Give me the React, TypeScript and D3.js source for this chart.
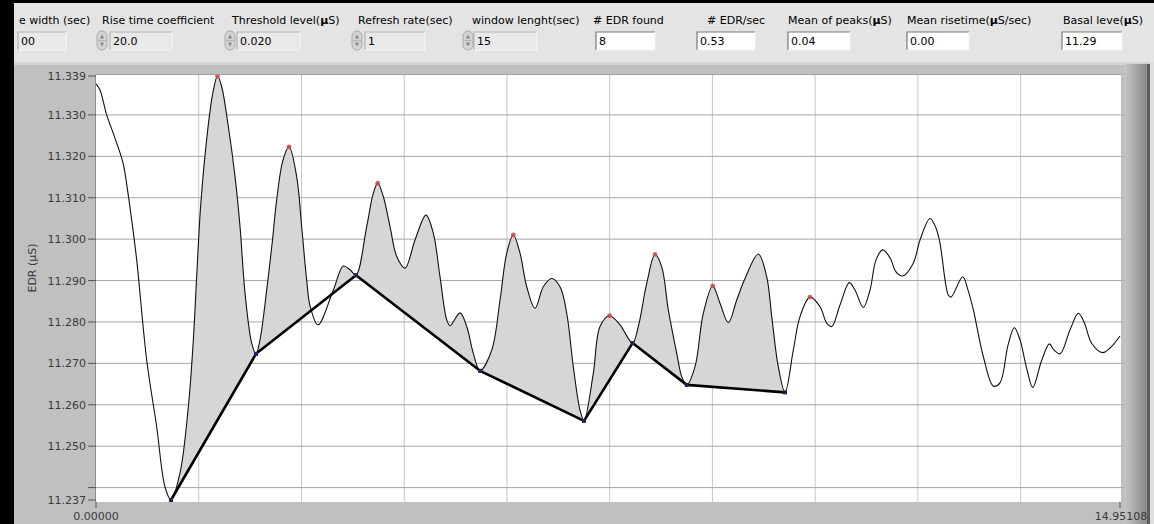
import React from "react";
import * as d3 from "d3";

// EDR waveform (time in s, conductance in µS)
const edrTime = [
  0, 0.058, 0.156, 0.277, 0.394, 0.467, 0.521, 0.594, 0.74, 0.886, 1.007, 1.095,
  1.226, 1.348, 1.421, 1.475, 1.53, 1.63, 1.705, 1.774, 1.835, 1.932, 2.03, 2.103,
  2.176, 2.273, 2.336, 2.394, 2.492, 2.577, 2.638, 2.73, 2.818, 2.93, 3.003, 3.076,
  3.125, 3.241, 3.465, 3.611, 3.709, 3.796, 3.952, 4.049, 4.113, 4.195, 4.293, 4.391,
  4.512, 4.658, 4.818, 4.925, 5.023, 5.121, 5.169, 5.315, 5.413, 5.509, 5.607, 5.778,
  5.899, 5.997, 6.093, 6.191, 6.289, 6.41, 6.531, 6.654, 6.775, 6.873, 6.969, 7.067,
  7.125, 7.261, 7.359, 7.498, 7.651, 7.834, 7.918, 8.041, 8.162, 8.26, 8.356, 8.479,
  8.552, 8.625, 8.746, 8.867, 9.005, 9.111, 9.233, 9.355, 9.476, 9.67, 9.793, 9.866,
  9.962, 10.06, 10.181, 10.279, 10.425, 10.571, 10.669, 10.742, 10.863, 10.999, 11.082, 11.203,
  11.301, 11.389, 11.486, 11.593, 11.681, 11.776, 11.933, 12.031, 12.177, 12.264, 12.323, 12.444,
  12.484, 12.655, 12.732, 12.81, 12.956, 13.102, 13.199, 13.316, 13.408, 13.492, 13.594, 13.677,
  13.809, 13.92, 13.988, 14.076, 14.222, 14.343, 14.426, 14.539, 14.699, 14.806, 14.951,
];
const edrValue = [
  11.3375, 11.336, 11.33, 11.3244, 11.3184, 11.3111, 11.3046, 11.295, 11.2708, 11.2547, 11.2402, 11.237,
  11.2435, 11.2595, 11.2756, 11.2926, 11.3085, 11.3262, 11.3352, 11.3394, 11.3368, 11.3272, 11.3151, 11.303,
  11.2869, 11.2749, 11.2723, 11.2756, 11.2877, 11.2998, 11.3095, 11.3191, 11.3223, 11.3151, 11.303, 11.2901,
  11.2839, 11.2793, 11.2877, 11.2935, 11.2926, 11.2913, 11.303, 11.3111, 11.3135, 11.3103, 11.303, 11.2958,
  11.293, 11.2998, 11.3058, 11.3014, 11.2909, 11.2805, 11.2791, 11.2822, 11.2789, 11.2724, 11.2682, 11.2732,
  11.2853, 11.2966, 11.301, 11.2966, 11.2885, 11.2833, 11.2885, 11.2905, 11.2885, 11.2821, 11.2692, 11.2587,
  11.2561, 11.2676, 11.2789, 11.2815, 11.2793, 11.2749, 11.2789, 11.2893, 11.2963, 11.2933, 11.2829, 11.2724,
  11.2668, 11.2648, 11.2692, 11.2821, 11.2887, 11.2845, 11.2798, 11.2853, 11.2905, 11.2964, 11.2909, 11.2813,
  11.2692, 11.263, 11.2732, 11.2813, 11.286, 11.2837, 11.2797, 11.2789, 11.2841, 11.2895, 11.2877, 11.2835,
  11.2877, 11.295, 11.2974, 11.2955, 11.2921, 11.2911, 11.2942, 11.2998, 11.305, 11.3027, 11.299, 11.2865,
  11.286, 11.2909, 11.2877, 11.2829, 11.2716, 11.2645, 11.2653, 11.2744, 11.2786, 11.2756, 11.2684, 11.2642,
  11.2708, 11.2747, 11.2732, 11.2723, 11.2781, 11.2821, 11.28, 11.2748, 11.2726, 11.2737, 11.2766,
];

// detected responses (red) and their onsets / baseline (blue)
const peakTime = [1.774, 2.818, 4.113, 6.093, 7.498, 8.162, 9.005, 10.425];
const peakValue = [11.3394, 11.3223, 11.3135, 11.301, 11.2815, 11.2963, 11.2887, 11.286];
const baseTime = [1.095, 2.336, 3.796, 5.607, 7.125, 7.834, 8.625, 10.06];
const baseValue = [11.237, 11.2723, 11.2913, 11.2682, 11.2561, 11.2749, 11.2648, 11.263];

const yTicks = [11.24, 11.25, 11.26, 11.27, 11.28, 11.29, 11.3, 11.31, 11.32, 11.33];
const yMin = 11.237;
const yMax = 11.3394;
const xMax = 14.95108;
const xGrid = [1.5, 3, 4.5, 6, 7.5, 9, 10.5, 12, 13.5];

const controlLabels = [
  "e width (sec)",
  "Rise time coefficient",
  "Threshold  level(µS)",
  "Refresh rate(sec)",
  "window lenght(sec)",
  "# EDR found",
  "# EDR/sec",
  "Mean of peaks(µS)",
  "Mean risetime(µS/sec)",
  "Basal leve(µS)",
];
const controlValues = ["00", "20.0", "0.020", "1", "15", "8", "0.53", "0.04", "0.00", "11.29"];

// screen layout of the front panel controls
const controlLayout = [
  { lx: 19, bx: 18, bw: 48, spin: 0, white: false },
  { lx: 102, bx: 110, bw: 62, spin: 97, white: false },
  { lx: 232, bx: 237, bw: 63, spin: 225, white: false },
  { lx: 358, bx: 365, bw: 60, spin: 352, white: false },
  { lx: 472, bx: 474, bw: 63, spin: 463, white: false },
  { lx: 593, bx: 596, bw: 59, spin: 0, white: true },
  { lx: 707, bx: 697, bw: 58, spin: 0, white: true },
  { lx: 788, bx: 788, bw: 62, spin: 0, white: true },
  { lx: 907, bx: 907, bw: 62, spin: 0, white: true },
  { lx: 1063, bx: 1062, bw: 60, spin: 0, white: true },
];

const FONT = "'DejaVu Sans', Tahoma, sans-serif";

function Label({ text, x, y }: { text: string; x: number; y: number }) {
  const parts = text.split("µ");
  return (
    <text x={x} y={y} fontSize={11} fontFamily={FONT} fill="#000">
      {parts.map((p, i) => (
        <React.Fragment key={i}>
          {i > 0 && <tspan fontWeight="bold">µ</tspan>}
          <tspan>{p}</tspan>
        </React.Fragment>
      ))}
    </text>
  );
}

function Spinner({ x }: { x: number }) {
  return (
    <g>
      <rect x={x} y={31} width={10} height={19} rx={5} fill="#d4d4d4" stroke="#9c9c9c" strokeWidth={0.8} />
      <line x1={x + 1} y1={40.5} x2={x + 9} y2={40.5} stroke="#a8a8a8" strokeWidth={0.7} />
      <path d={`M${x + 5},34.5 L${x + 2.8},38.5 L${x + 7.2},38.5 Z`} fill="#8a8a8a" />
      <path d={`M${x + 5},46.5 L${x + 2.8},42.5 L${x + 7.2},42.5 Z`} fill="#8a8a8a" />
    </g>
  );
}

export default function App() {
  const left = 96;
  const right = 1121;
  const top = 75;
  const bottom = 502;

  const x = d3.scaleLinear().domain([0, xMax]).range([96, 1120]);
  const y = d3.scaleLinear().domain([yMin, yMax]).range([500, 76]);

  const smooth = d3.curveCatmullRom.alpha(0.5);
  const pts = edrTime.map((t, i) => [t, edrValue[i]] as [number, number]);
  const line = d3
    .line<[number, number]>()
    .x((d) => x(d[0]))
    .y((d) => y(d[1]))
    .curve(smooth);
  const area = d3
    .area<[number, number]>()
    .x((d) => x(d[0]))
    .y0(bottom)
    .y1((d) => y(d[1]))
    .curve(smooth);

  const basePts = baseTime.map((t, i) => [t, baseValue[i]] as [number, number]);
  const baseLine = d3
    .line<[number, number]>()
    .x((d) => x(d[0]))
    .y((d) => y(d[1]));
  const clipD =
    (baseLine(basePts) as string) +
    `L${x(baseTime[baseTime.length - 1])},${top}L${x(baseTime[0])},${top}Z`;

  return (
    <div style={{ position: "absolute", left: 0, top: 0 }}>
      <svg width={1154} height={524} style={{ display: "block" }}>
        <defs>
          <linearGradient id="edge" x1="0" x2="1" y1="0" y2="0">
            <stop offset="0" stopColor="#c6c6c6" />
            <stop offset="0.35" stopColor="#b0b0b0" />
            <stop offset="1" stopColor="#878787" />
          </linearGradient>
          <clipPath id="aboveBase">
            <path d={clipD} />
          </clipPath>
          <clipPath id="plotClip">
            <rect x={left} y={top} width={right - left} height={bottom - top} />
          </clipPath>
        </defs>

        {/* panels */}
        <rect x={0} y={0} width={1154} height={524} fill="#c0c0c0" />
        <rect x={0} y={0} width={1154} height={62} fill="#e4e4e4" />
        <rect x={0} y={62} width={1154} height={3} fill="#d4d4d4" />
        <rect x={1124} y={64} width={24} height={460} rx={3} fill="url(#edge)" />
        <rect x={1147} y={64} width={3} height={460} fill="#5c5c5c" />
        <rect x={1150} y={62} width={4} height={462} fill="#dedede" />
        <rect x={0} y={0} width={1154} height={3} fill="#000" />
        <rect x={0} y={0} width={14} height={524} fill="#000" />

        {/* front panel controls */}
        {controlLabels.map((lab, i) => {
          const c = controlLayout[i];
          return (
            <g key={lab}>
              <Label text={lab} x={c.lx} y={24} />
              <rect
                x={c.bx}
                y={32}
                width={c.bw}
                height={18}
                fill={c.white ? "#ffffff" : "#e9e9e9"}
                stroke="none"
              />
              <path
                d={`M${c.bx},50 L${c.bx},32 L${c.bx + c.bw},32`}
                fill="none"
                stroke={c.white ? "#7a7a7a" : "#b4b4b4"}
                strokeWidth={1.2}
              />
              <path
                d={`M${c.bx + c.bw},32 L${c.bx + c.bw},50 L${c.bx},50`}
                fill="none"
                stroke="#f4f4f4"
                strokeWidth={1}
              />
              {c.spin > 0 && <Spinner x={c.spin} />}
              <text x={c.bx + 3} y={45} fontSize={11} fontFamily={FONT} fill="#000">
                {controlValues[i]}
              </text>
            </g>
          );
        })}

        {/* plot area */}
        <rect x={left} y={top} width={right - left} height={bottom - top} fill="#ffffff" />
        <g clipPath="url(#plotClip)">
          {xGrid.map((t) => (
            <line key={t} x1={x(t)} x2={x(t)} y1={top} y2={bottom} stroke="#c6c6c6" strokeWidth={1} />
          ))}
          {yTicks.map((v) => (
            <line key={v} x1={left} x2={right} y1={y(v)} y2={y(v)} stroke="#a6a6a6" strokeWidth={1} />
          ))}
          <path d={area(pts) as string} fill="#d6d6d6" clipPath="url(#aboveBase)" />
          <path d={line(pts) as string} fill="none" stroke="#111" strokeWidth={1.1} />
          <path d={baseLine(basePts) as string} fill="none" stroke="#000" strokeWidth={2.6} strokeLinejoin="round" />
          {peakTime.map((t, i) => (
            <circle key={t} cx={x(t)} cy={y(peakValue[i])} r={2.4} fill="#d04848" opacity={0.85} />
          ))}
          {baseTime.map((t, i) => (
            <rect key={t} x={x(t) - 2} y={y(baseValue[i]) - 2} width={4} height={4} fill="#1c2450" />
          ))}
        </g>
        <line x1={left - 0.5} x2={left - 0.5} y1={top} y2={bottom} stroke="#8c8c8c" />
        <line x1={left} x2={right} y1={top - 0.5} y2={top - 0.5} stroke="#a0a0a0" />

        {/* right side minor marks */}
        {yTicks.map((v) => (
          <line key={"r" + v} x1={right} x2={right + 4} y1={y(v)} y2={y(v)} stroke="#b0b0b0" />
        ))}

        {/* y axis */}
        {[...yTicks, yMin, yMax].map((v) => (
          <line key={"t" + v} x1={88} x2={left} y1={y(v)} y2={y(v)} stroke="#555" strokeWidth={1} />
        ))}
        {yTicks
          .filter((v) => v > 11.245)
          .map((v) => (
            <text
              key={"l" + v}
              x={86}
              y={y(v) + 4}
              textAnchor="end"
              fontSize={11}
              fontFamily={FONT}
              fill="#3a3a3a"
            >
              {d3.format(".3f")(v)}
            </text>
          ))}
        <text x={86} y={y(yMax) + 4} textAnchor="end" fontSize={11} fontFamily={FONT} fill="#3a3a3a">
          {d3.format(".3f")(yMax)}
        </text>
        <text x={86} y={y(yMin) + 4} textAnchor="end" fontSize={11} fontFamily={FONT} fill="#3a3a3a">
          {d3.format(".3f")(yMin)}
        </text>
        <text
          transform={`translate(36,268) rotate(-90)`}
          textAnchor="middle"
          fontSize={11}
          fontFamily={FONT}
          fill="#3a3a3a"
        >
          EDR (µS)
        </text>

        {/* x axis */}
        {[0, xMax].map((t) => (
          <line key={"x" + t} x1={x(t)} x2={x(t)} y1={bottom} y2={bottom + 6} stroke="#555" />
        ))}
        <text x={x(0)} y={520} textAnchor="middle" fontSize={11} fontFamily={FONT} fill="#3a3a3a">
          {d3.format(".5f")(0)}
        </text>
        <text x={x(xMax) + 1} y={520} textAnchor="middle" fontSize={11} fontFamily={FONT} fill="#3a3a3a">
          {d3.format(".5f")(xMax)}
        </text>
      </svg>
    </div>
  );
}
